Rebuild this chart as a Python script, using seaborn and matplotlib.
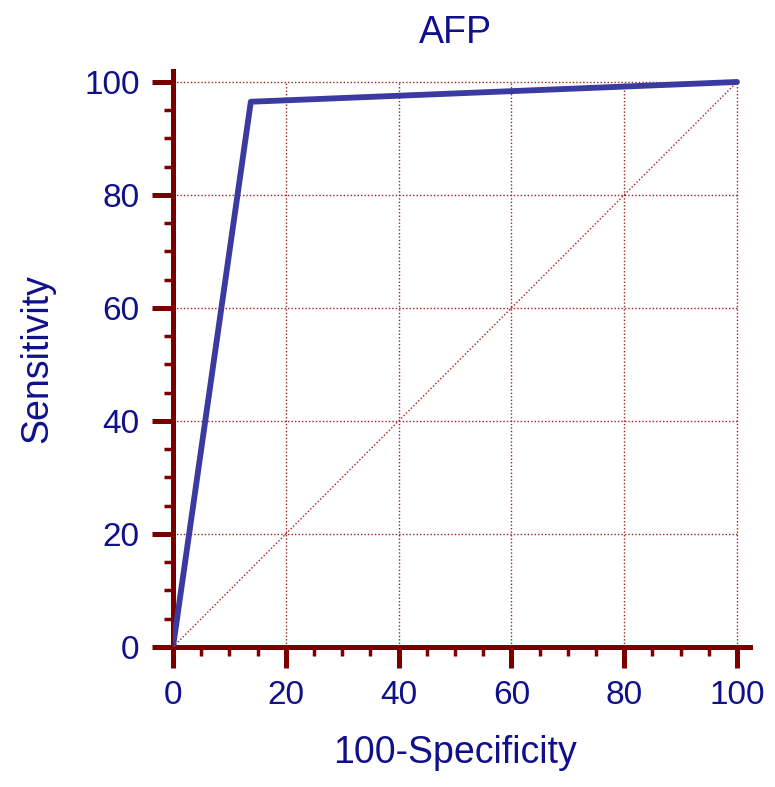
import numpy as np
import pandas as pd
import seaborn as sns
import matplotlib.pyplot as plt
from matplotlib.ticker import MultipleLocator

# ROC points for AFP
fpr = [0, 13.8, 100]
tpr = [0, 96.5, 100]
title = 'AFP'
xlabel = '100-Specificity'
ylabel = 'Sensitivity'

roc = pd.DataFrame({'fpr': fpr, 'tpr': tpr})

sns.set_style('white')
plt.rcParams['font.family'] = ['Liberation Sans', 'DejaVu Sans']

axis_col = '#7a0000'
text_col = '#10108a'
line_col = '#3a3aa0'
grid_col = '#a02020'

fig = plt.figure(figsize=(7.75, 7.87), dpi=100)
ax = fig.add_axes([0.2232, 0.1779, 0.7445, 0.7323])

# grid and diagonal reference line
for v in range(20, 101, 20):
    ax.plot([v, v], [0, 100], ls=(0, (1, 1.5)), color=grid_col, lw=1, zorder=1)
    ax.plot([0, 100], [v, v], ls=(0, (1, 1.5)), color=grid_col, lw=1, zorder=1)
ax.plot([0, 100], [0, 100], ls=(0, (1, 1.5)), color=grid_col, lw=1, zorder=1)

sns.lineplot(data=roc, x='fpr', y='tpr', ax=ax, color=line_col, lw=4.2,
             sort=False, zorder=3, solid_capstyle='round')

ax.set_xlim(0, 102.3)
ax.set_ylim(0, 102)
ax.xaxis.set_major_locator(MultipleLocator(20))
ax.yaxis.set_major_locator(MultipleLocator(20))
ax.xaxis.set_minor_locator(MultipleLocator(5))
ax.yaxis.set_minor_locator(MultipleLocator(5))

for s in ['top', 'right']:
    ax.spines[s].set_visible(False)
for s in ['left', 'bottom']:
    ax.spines[s].set_color(axis_col)
    ax.spines[s].set_linewidth(3.6)

ax.tick_params(which='major', direction='out', length=15, width=3.6,
               color=axis_col, labelcolor=text_col, labelsize=24)
ax.tick_params(which='minor', direction='out', length=6.5, width=2.5,
               color=axis_col)
ax.tick_params(axis='x', which='major', pad=9)
ax.tick_params(axis='y', which='major', pad=9)
ax.tick_params(axis='both', which='both', bottom=True, left=True)

ax.set_title(title, fontsize=27, color=text_col, pad=20, x=50 / 102.3)
ax.set_xlabel(xlabel, fontsize=27, color=text_col)
ax.xaxis.set_label_coords(50 / 102.3, -0.152)
ax.set_ylabel(ylabel, fontsize=27, color=text_col, labelpad=21)

fig.savefig('out.png', dpi=100)
